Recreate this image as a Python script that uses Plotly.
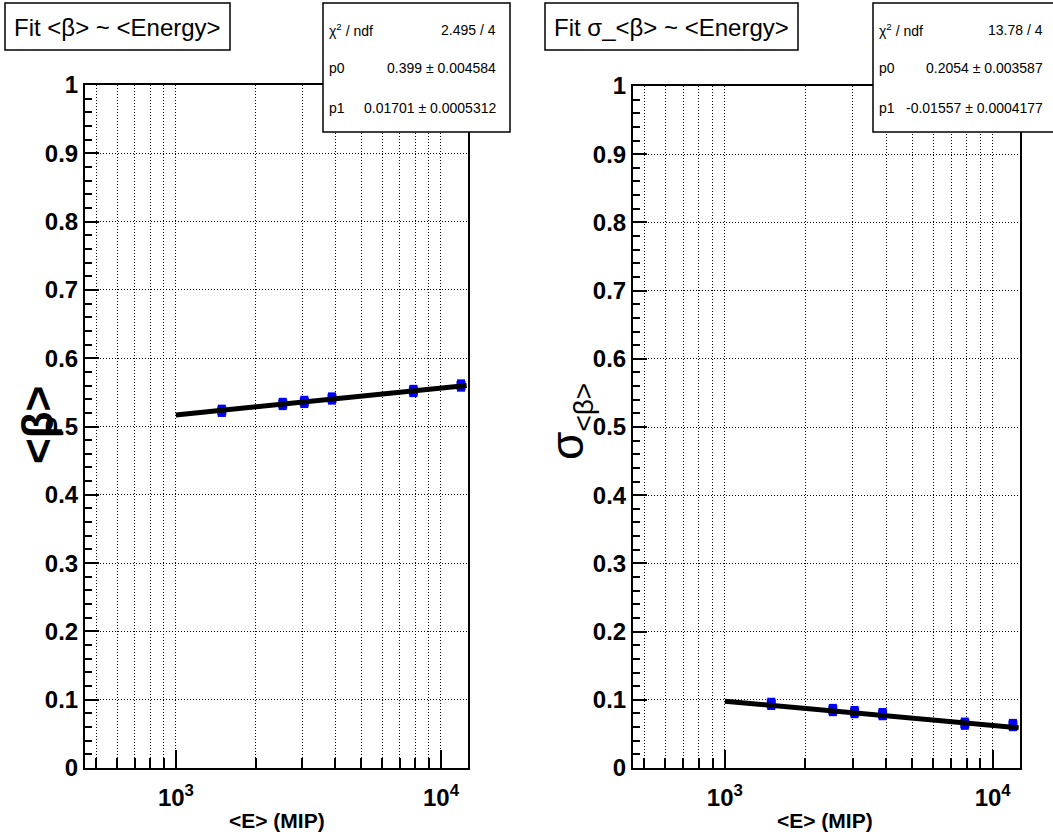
import plotly.graph_objects as go

# ---------------- data ----------------
energy_mip = [1490, 2530, 3050, 3880, 7870, 11900]
beta_mean = [0.523, 0.533, 0.536, 0.541, 0.552, 0.560]
beta_mean_err = [0.009, 0.009, 0.009, 0.009, 0.009, 0.009]
beta_sigma = [0.094, 0.085, 0.082, 0.079, 0.065, 0.063]
beta_sigma_err = [0.009, 0.009, 0.009, 0.009, 0.009, 0.009]

fit_energy = [1000, 12500]
fit_beta_mean = [0.517, 0.560]
fit_beta_sigma = [0.098, 0.059]

major_x_ticks = [1000, 10000]
major_x_labels = ["10<sup>3</sup>", "10<sup>4</sup>"]
minor_x_ticks = [500, 600, 700, 800, 900, 2000, 3000, 4000, 5000, 6000, 7000, 8000, 9000]

titles = ["Fit &lt;β&gt; ~ &lt;Energy&gt;", "Fit σ_&lt;β&gt; ~ &lt;Energy&gt;"]
y_titles = ["&lt;β&gt;", "σ<sub><span style='font-size:28px'>&lt;β&gt;</span></sub>"]
x_title = "&lt;E&gt; (MIP)"
stat_labels = ["χ<sup>2</sup> / ndf", "p0", "p1"]
stat_left = ["2.495 / 4", "0.399 ± 0.004584", "0.01701 ± 0.0005312"]
stat_right = ["13.78 / 4", "0.2054 ± 0.003587", "-0.01557 ± 0.0004177"]

# ---------------- layout helpers ----------------
W, H = 1053, 835
def px(x):
    return x / W
def py(y):
    return 1 - y / H

FONT = "Liberation Sans, Arial, Helvetica, sans-serif"

fig = go.Figure()

for i, (yv, ye, fy) in enumerate([(beta_mean, beta_mean_err, fit_beta_mean),
                                  (beta_sigma, beta_sigma_err, fit_beta_sigma)]):
    xa = "x" if i == 0 else "x2"
    ya = "y" if i == 0 else "y2"
    fig.add_trace(go.Scatter(
        x=energy_mip, y=yv, mode="markers", xaxis=xa, yaxis=ya,
        marker=dict(symbol="square", size=9, color="#0000ff"),
        error_y=dict(type="data", array=ye, visible=True, color="#0000ff",
                     thickness=8, width=0),
        showlegend=False, hoverinfo="skip"))
    fig.add_trace(go.Scatter(
        x=fit_energy, y=fy, mode="lines", xaxis=xa, yaxis=ya,
        line=dict(color="black", width=5), showlegend=False, hoverinfo="skip"))

xdomains = [[px(85), px(468)], [px(633), px(1020)]]
ydomains = [[py(768), py(85)], [py(768), py(86)]]

def xaxis_cfg():
    return dict(
        type="log", range=[2.657, 4.102], automargin=False,
        tickmode="array", tickvals=major_x_ticks, ticktext=major_x_labels,
        ticks="inside", ticklen=18, tickwidth=1.5, tickcolor="black",
        ticklabelstandoff=7,
        showgrid=True, gridcolor="black", griddash="1px,2px", gridwidth=1,
        showline=True, linecolor="black", linewidth=2, mirror=True,
        zeroline=False,
        tickfont=dict(family=FONT, size=24, color="black", weight="bold"),
        minor=dict(tickmode="array", tickvals=minor_x_ticks, ticks="inside",
                   ticklen=10, tickwidth=1.5, tickcolor="black",
                   showgrid=True, gridcolor="black", griddash="1px,2px", gridwidth=1),
    )

def yaxis_cfg():
    return dict(
        range=[0, 1], dtick=0.1, tick0=0, automargin=False,
        ticks="inside", ticklen=14, tickwidth=1.5, tickcolor="black",
        showgrid=True, gridcolor="black", griddash="1px,2px", gridwidth=1,
        showline=True, linecolor="black", linewidth=2, mirror=True,
        zeroline=False,
        tickfont=dict(family=FONT, size=24, color="black", weight="bold"),
        minor=dict(dtick=0.02, ticks="inside", ticklen=7, tickwidth=1.5,
                   tickcolor="black", showgrid=False),
    )

fig.update_layout(
    width=W, height=H,
    margin=dict(l=0, r=0, t=0, b=0, autoexpand=False),
    paper_bgcolor="white", plot_bgcolor="white",
    xaxis=dict(domain=xdomains[0], anchor="y", **xaxis_cfg()),
    yaxis=dict(domain=ydomains[0], anchor="x", **yaxis_cfg()),
    xaxis2=dict(domain=xdomains[1], anchor="y2", **xaxis_cfg()),
    yaxis2=dict(domain=ydomains[1], anchor="x2", **yaxis_cfg()),
)

shapes = []
annotations = []

title_boxes = [(5, 3, 230, 50), (545, 3, 798, 50)]
for (x0, y0, x1, y1), t in zip(title_boxes, titles):
    shapes.append(dict(type="rect", xref="paper", yref="paper",
                       x0=px(x0), y0=py(y1), x1=px(x1), y1=py(y0),
                       line=dict(color="black", width=1.5), fillcolor="white",
                       layer="above"))
    annotations.append(dict(xref="paper", yref="paper", x=px((x0 + x1) / 2),
                            y=py((y0 + y1) / 2 + 1), text=t, showarrow=False,
                            xanchor="center", yanchor="middle",
                            font=dict(family=FONT, size=24, color="black")))

stat_boxes = [(323, 3, 510, 132), (873, 3, 1060, 132)]
value_right = [498, 1045]
row_y = [30, 68, 108]
for k, ((x0, y0, x1, y1), vals) in enumerate(zip(stat_boxes, [stat_left, stat_right])):
    shapes.append(dict(type="rect", xref="paper", yref="paper",
                       x0=px(x0), y0=py(y1), x1=px(x1), y1=py(y0),
                       line=dict(color="black", width=1.5), fillcolor="white",
                       layer="above"))
    for lab, val, ry in zip(stat_labels, vals, row_y):
        annotations.append(dict(xref="paper", yref="paper", x=px(x0 + 4), y=py(ry),
                                text=lab, showarrow=False, xanchor="left",
                                yanchor="middle",
                                font=dict(family=FONT, size=14, color="black")))
        annotations.append(dict(xref="paper", yref="paper", x=px(value_right[k]),
                                y=py(ry), text=val, showarrow=False,
                                xanchor="right", yanchor="middle",
                                font=dict(family=FONT, size=14, color="black")))

annotations.append(dict(xref="paper", yref="paper", x=px(37), y=py(425),
                        text=y_titles[0], showarrow=False, textangle=-90,
                        xanchor="center", yanchor="middle",
                        font=dict(family=FONT, size=44, color="black", weight="bold")))
annotations.append(dict(xref="paper", yref="paper", x=px(570), y=py(422),
                        text=y_titles[1], showarrow=False, textangle=-90,
                        xanchor="center", yanchor="middle",
                        font=dict(family=FONT, size=46, color="black")))
for cx in [277, 825]:
    annotations.append(dict(xref="paper", yref="paper", x=px(cx), y=py(820),
                            text=x_title, showarrow=False,
                            xanchor="center", yanchor="middle",
                            font=dict(family=FONT, size=21, color="black", weight="bold")))

fig.update_layout(shapes=shapes, annotations=annotations)
fig.write_html("out.html", config={"displayModeBar": False},
               post_script="document.body.style.margin='0px';")
